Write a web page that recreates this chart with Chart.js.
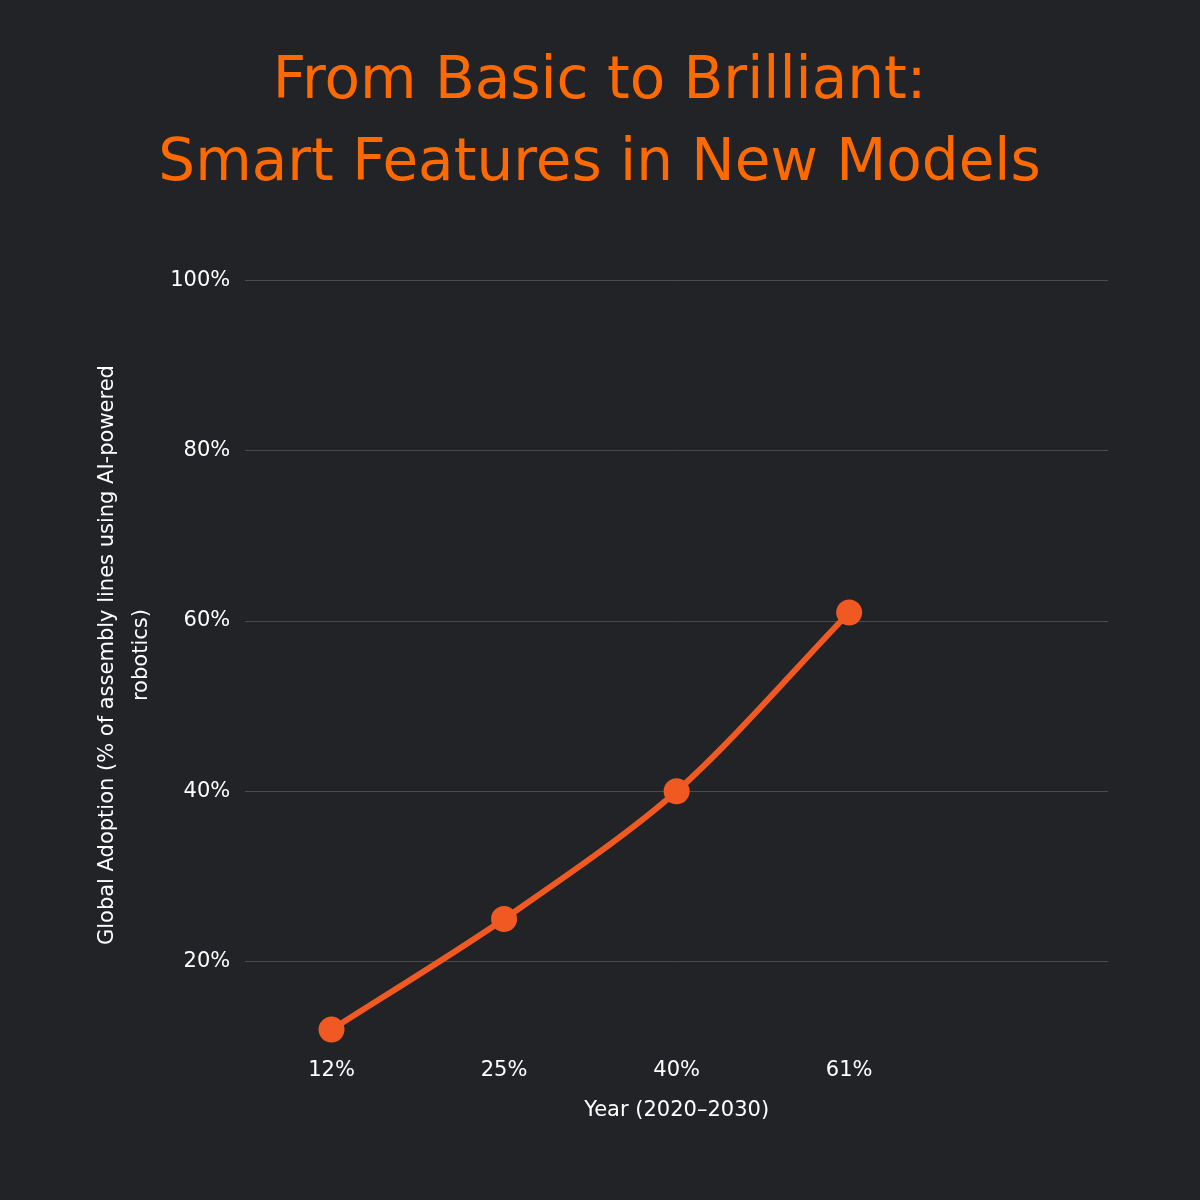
<!DOCTYPE html>
<html>
<head>
<meta charset="utf-8">
<script src="https://cdn.jsdelivr.net/npm/chart.js@4/dist/chart.umd.min.js"></script>
<style>
  html, body { margin: 0; padding: 0; background: #222327; }
  #wrap { width: 1200px; height: 1200px; }
</style>
</head>
<body>
<div id="wrap"><canvas id="chart"></canvas></div>
<script>
const FONT = "'DejaVu Sans', Inter, sans-serif";
const LINE_COLOR = "#f05a22";
const TITLE_COLOR = "#ff6a00";
const TEXT_COLOR = "#ffffff";
const GRID_COLOR = "#4a4b50";

const categories = ["12%", "25%", "40%", "61%", ""];
const adoption = [12, 25, 40, 61, null];
const yTicks = [20, 40, 60, 80, 100];

new Chart(document.getElementById("chart"), {
  type: "line",
  data: {
    labels: categories,
    datasets: [
      {
        label: "Global Adoption",
        data: adoption,
        borderColor: LINE_COLOR,
        backgroundColor: LINE_COLOR,
        borderWidth: 6,
        pointRadius: 10,
        pointHoverRadius: 10,
        tension: 0.3,
        clip: false,
      },
    ],
  },
  options: {
    responsive: true,
    maintainAspectRatio: false,
    animation: false,
    layout: { padding: { top: 42, right: 92, bottom: 77, left: 91 } },
    plugins: {
      legend: { display: false },
      tooltip: { enabled: false },
      title: {
        display: true,
        text: ["From Basic to Brilliant:", "Smart Features in New Models"],
        color: TITLE_COLOR,
        font: { family: FONT, size: 58, weight: "normal", lineHeight: 1.41 },
        padding: { top: 0, bottom: 75 },
      },
    },
    scales: {
      x: {
        offset: true,
        grid: { display: false, drawTicks: false },
        border: { display: false },
        ticks: { color: TEXT_COLOR, font: { family: FONT, size: 21 }, padding: 28 },
        title: {
          display: true,
          text: "Year (2020–2030)",
          color: TEXT_COLOR,
          font: { family: FONT, size: 21 },
          padding: { top: -13, bottom: 0 },
        },
      },
      y: {
        min: 12,
        max: 100,
        afterBuildTicks: (axis) => {
          axis.ticks = yTicks.map((v) => ({ value: v }));
        },
        grid: { color: GRID_COLOR, lineWidth: 1, drawTicks: false },
        border: { display: false },
        ticks: {
          color: TEXT_COLOR,
          font: { family: FONT, size: 21 },
          padding: 15,
          callback: (v) => v + "%",
        },
        title: {
          display: true,
          text: ["Global Adoption (% of assembly lines using AI-powered", "robotics)"],
          color: TEXT_COLOR,
          font: { family: FONT, size: 21, lineHeight: 1.6 },
          padding: { top: 0, bottom: -3 },
        },
      },
    },
  },
});
</script>
</body>
</html>
